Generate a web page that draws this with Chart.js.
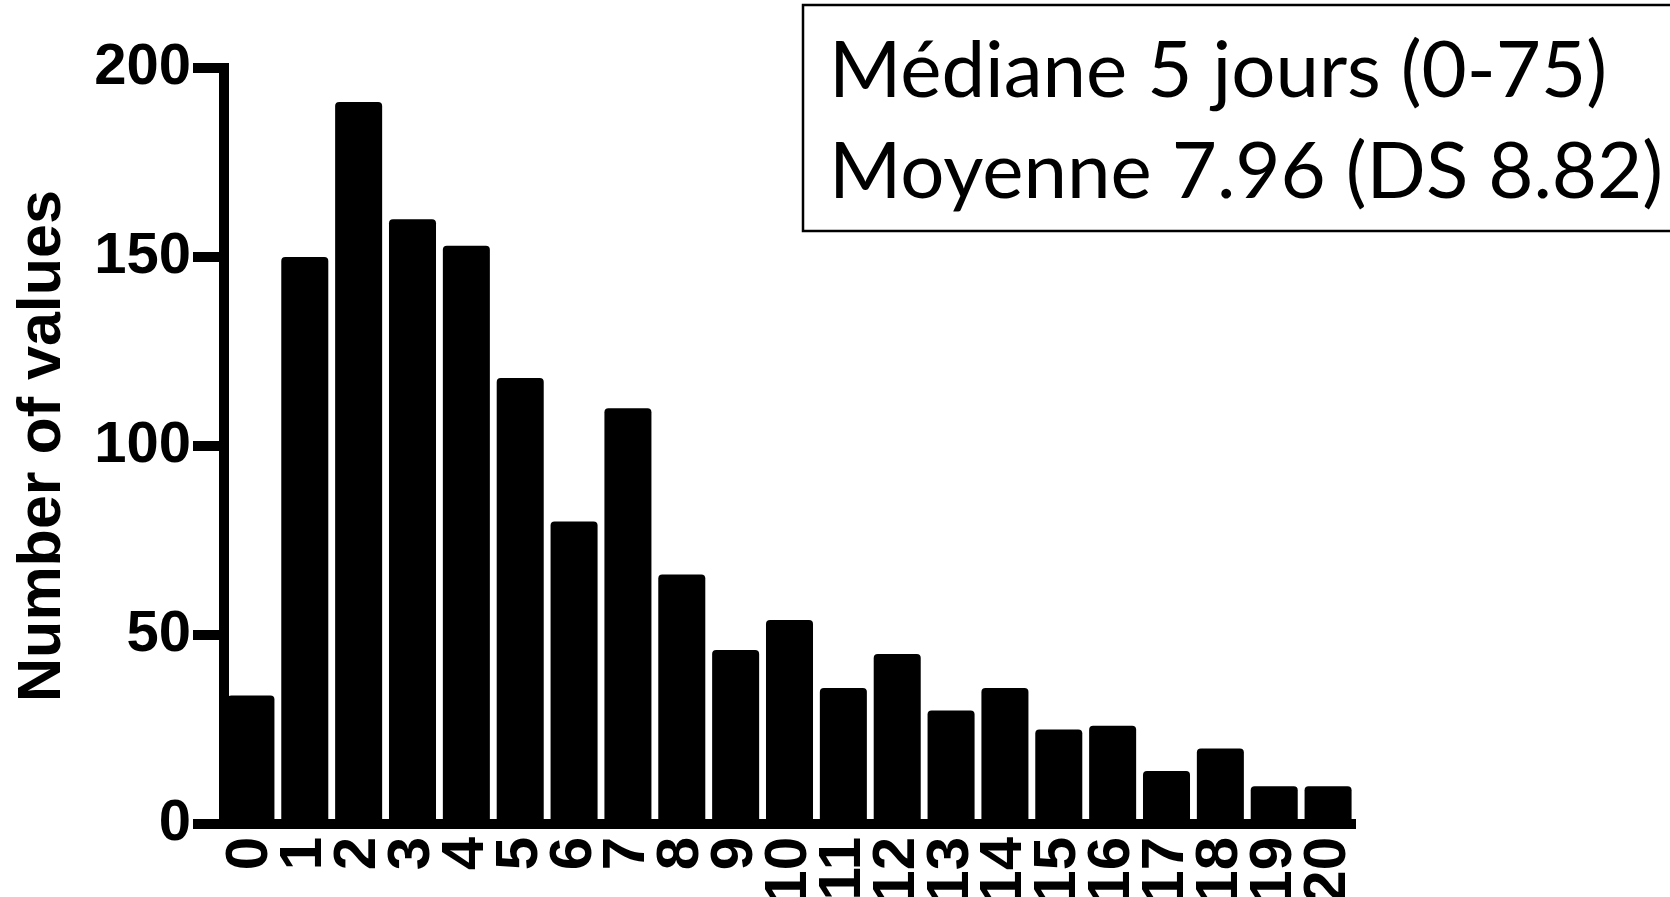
<!DOCTYPE html>
<html>
<head>
<meta charset="utf-8">
<style>
  html, body { margin: 0; padding: 0; background: #fff; overflow: hidden; }
  #wrap { width: 1670px; height: 897px; }
</style>
<script src="https://cdn.jsdelivr.net/npm/chart.js@4.4.1/dist/chart.umd.min.js"></script>
</head>
<body>
<div id="wrap"><canvas id="histChart" width="1670" height="897"></canvas></div>
<script>
// histogram: days -> number of values
const days = ['0','1','2','3','4','5','6','7','8','9','10','11','12','13','14','15','16','17','18','19','20'];
const counts = [34, 150, 191, 160, 153, 118, 80, 110, 66, 46, 54, 36, 45, 30, 36, 25, 26, 14, 20, 10, 10];
const yTicks = [0, 50, 100, 150, 200];
const yTitle = 'Number of values';
const statsLines = ['Médiane 5 jours (0-75)', 'Moyenne 7.96 (DS 8.82)'];

const ctx = document.getElementById('histChart').getContext('2d');

// box with median / mean text, top right
const statsBox = {
  id: 'statsBox',
  afterDraw(chart) {
    const c = chart.ctx;
    c.save();
    c.strokeStyle = '#000';
    c.lineWidth = 2.5;
    c.strokeRect(803, 5, 900, 226);
    c.fillStyle = '#000';
    c.font = '78px Lato';
    c.textBaseline = 'alphabetic';
    c.textAlign = 'left';
    c.fillText(statsLines[0], 829, 97);
    c.fillText(statsLines[1], 829, 198);
    c.restore();
  }
};

let chart = new Chart(ctx, {
  type: 'bar',
  data: {
    labels: days,
    datasets: [{
      data: counts,
      backgroundColor: '#000',
      borderWidth: 0,
      borderRadius: 4,
      barPercentage: 0.873,
      categoryPercentage: 1
    }]
  },
  options: {
    responsive: false,
    animation: false,
    devicePixelRatio: 1,
    layout: {
      padding: { top: 68, right: 315, bottom: 0, left: 0 }
    },
    plugins: {
      legend: { display: false },
      tooltip: { enabled: false }
    },
    scales: {
      x: {
        grid: { display: false, drawTicks: false },
        border: { display: true, color: '#000', width: 10 },
        ticks: {
          autoSkip: false,
          minRotation: 90,
          maxRotation: 90,
          padding: 13,
          color: '#000',
          font: { family: '"Liberation Sans Narrow", "Liberation Sans"', weight: 'bold', size: 60 }
        },
        afterFit: (scale) => { scale.height = 73; }
      },
      y: {
        min: 0,
        max: 200,
        afterBuildTicks: (scale) => { scale.ticks = yTicks.map(v => ({ value: v })); },
        grid: {
          drawOnChartArea: false,
          drawTicks: true,
          tickLength: 31,
          lineWidth: 10,
          color: '#000'
        },
        border: { display: true, color: '#000', width: 10 },
        ticks: {
          padding: 2,
          color: '#000',
          font: { family: 'Liberation Sans', weight: 'bold', size: 58 }
        },
        title: {
          display: true,
          text: yTitle,
          color: '#000',
          padding: { top: 7, bottom: 0 },
          font: { family: 'Liberation Sans', weight: 'bold', size: 61 }
        },
        afterFit: (scale) => { scale.width = 224; }
      }
    }
  },
  plugins: [statsBox]
});
</script>
</body>
</html>
